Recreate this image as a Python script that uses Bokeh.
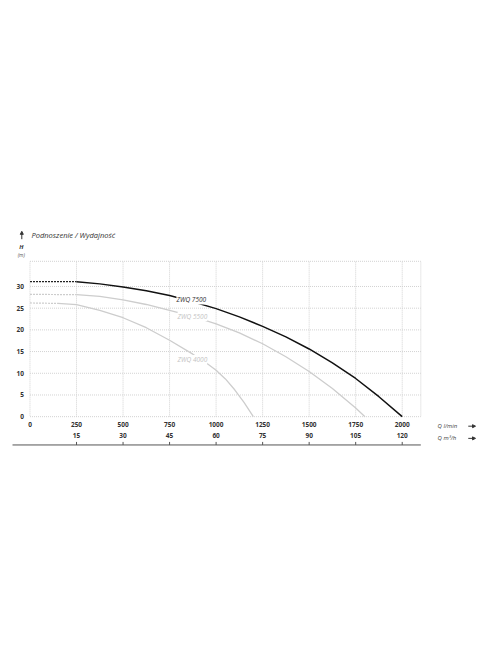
from bokeh.plotting import figure
from bokeh.models import (Range1d, LinearAxis, FixedTicker, Label, Arrow, NormalHead)
from bokeh.embed import file_html
from bokeh.resources import INLINE

# ---- data ----
q_ticks_lmin = [0, 250, 500, 750, 1000, 1250, 1500, 1750, 2000]
q_ticks_m3h = [15, 30, 45, 60, 75, 90, 105, 120]
h_ticks = [0, 5, 10, 15, 20, 25, 30]

zwq7500_q_dash = [0, 250]
zwq7500_h_dash = [31.1, 31.1]
zwq7500_q = [250, 375, 500, 625, 750, 875, 1000, 1125, 1250, 1375, 1500, 1625, 1750, 1875, 2000]
zwq7500_h = [31.1, 30.6, 29.9, 29.0, 27.9, 26.5, 24.9, 23.0, 20.8, 18.4, 15.6, 12.4, 8.8, 4.6, 0.0]

zwq5500_q_dash = [0, 250]
zwq5500_h_dash = [28.2, 28.1]
zwq5500_q = [250, 375, 500, 625, 750, 875, 1000, 1125, 1250, 1375, 1500, 1625, 1750, 1800]
zwq5500_h = [28.1, 27.7, 26.9, 25.85, 24.5, 23.1, 21.4, 19.3, 16.8, 13.8, 10.4, 6.5, 2.0, 0.0]

zwq4000_q_dash = [0, 150]
zwq4000_h_dash = [26.2, 26.1]
zwq4000_q = [150, 250, 375, 500, 625, 750, 875, 937, 1000, 1050, 1100, 1150, 1200]
zwq4000_h = [26.1, 25.8, 24.5, 22.8, 20.5, 17.6, 14.4, 12.7, 10.7, 8.7, 6.2, 3.3, 0.0]

FONT = "Open Sans"
LMIN_TO_M3H = 0.06

# extent of the chart box (data units)
box_q = 2100
box_h = 35.8

# whole canvas is the frame; the ranges place the chart box inside it
xr = Range1d(-158.5, 2420.7)
yr = Range1d(-52.5, 95.9)

p = figure(width=480, height=644, output_backend="svg", toolbar_location=None,
           x_range=xr, y_range=yr, x_axis_type=None, y_axis_type=None,
           min_border=0, min_border_left=0, min_border_right=0,
           min_border_top=0, min_border_bottom=0)
p.title.visible = False
p.background_fill_color = "white"
p.border_fill_color = "white"
p.outline_line_color = None
p.xgrid.visible = False
p.ygrid.visible = False

def style_axis(ax, standoff):
    ax.axis_line_color = None
    ax.major_tick_line_color = None
    ax.minor_tick_line_color = None
    ax.major_tick_out = 0
    ax.major_tick_in = 0
    ax.major_label_standoff = standoff
    ax.major_label_text_font = FONT
    ax.major_label_text_font_style = "bold"
    ax.major_label_text_font_size = "6.5px"
    ax.major_label_text_color = "#333333"

yax = LinearAxis(ticker=FixedTicker(ticks=h_ticks), fixed_location=0)
style_axis(yax, 6)
p.add_layout(yax, "left")

xax = LinearAxis(ticker=FixedTicker(ticks=q_ticks_lmin), fixed_location=0)
style_axis(xax, 5)
p.add_layout(xax, "below")

p.extra_x_ranges = {"m3h": Range1d(xr.start * LMIN_TO_M3H, xr.end * LMIN_TO_M3H)}
xax2 = LinearAxis(x_range_name="m3h", ticker=FixedTicker(ticks=q_ticks_m3h), fixed_location=-2.72)
style_axis(xax2, 5)
p.add_layout(xax2, "below")

# dotted grid and box
grid_col = "#d2d2d2"
vq = q_ticks_lmin[1:]
p.segment(x0=vq, y0=[0] * len(vq), x1=vq, y1=[box_h] * len(vq),
          line_color=grid_col, line_dash="1 1", line_width=1)
hh = h_ticks[1:]
p.segment(x0=[0] * len(hh), y0=hh, x1=[box_q] * len(hh), y1=hh,
          line_color=grid_col, line_dash="1 1", line_width=1)
p.quad(left=[0], right=[box_q], bottom=[0], top=[box_h], fill_color=None,
       line_color=grid_col, line_dash="1 1", line_width=1)

# curves
light = "#cdcdcd"
p.line(zwq4000_q_dash, zwq4000_h_dash, line_color=light, line_width=1.2, line_dash="2 1")
p.line(zwq4000_q, zwq4000_h, line_color=light, line_width=1.3)
p.line(zwq5500_q_dash, zwq5500_h_dash, line_color=light, line_width=1.2, line_dash="2 1")
p.line(zwq5500_q, zwq5500_h, line_color=light, line_width=1.3)
p.line(zwq7500_q_dash, zwq7500_h_dash, line_color="#222222", line_width=1.2, line_dash="2 1")
p.line(zwq7500_q, zwq7500_h, line_color="#111111", line_width=1.5)

# bottom base line with small ticks at the m3/h values
line_h = -6.52
tq = [t / LMIN_TO_M3H for t in q_ticks_m3h]
p.segment(x0=[-94], y0=[line_h], x1=[box_q], y1=[line_h], line_color="#555555", line_width=1)
p.segment(x0=tq, y0=[line_h] * len(tq), x1=tq, y1=[line_h + 0.7] * len(tq),
          line_color="#555555", line_width=1)

def lab(x, y, t, color, size="6.5px", style="italic", align="left", bg=True):
    p.add_layout(Label(x=x, y=y, text=t, text_color=color, text_font=FONT,
                       text_font_size=size, text_font_style=style,
                       text_align=align, text_baseline="middle",
                       background_fill_color="white" if bg else None,
                       background_fill_alpha=1.0 if bg else 0.0))

lab(787, 26.9, "ZWQ 7500", "#333333")
lab(793, 23.1, "ZWQ 5500", "#c4c4c4")
lab(793, 13.2, "ZWQ 4000", "#c4c4c4")

# titles
lab(8, 41.75, "Podnoszenie / Wydajność", "#333333", size="7.5px", bg=False)
lab(-47, 39.0, "H", "#333333", size="6px", style="bold italic", align="center", bg=False)
lab(-47, 37.2, "(m)", "#555555", size="5px", align="center", bg=False)
p.add_layout(Arrow(x_start=-44, y_start=40.9, x_end=-44, y_end=42.7,
                   line_color="#333333", line_width=1,
                   end=NormalHead(size=3, line_color="#333333", fill_color="#333333")))

lab(2190, -2.19, "Q l/min", "#444444", size="6px", bg=False)
lab(2190, -5.0, "Q m³/h", "#444444", size="6px", bg=False)
for yy in (-2.19, -5.0):
    p.add_layout(Arrow(x_start=2355, y_start=yy, x_end=2394, y_end=yy,
                       line_color="#333333", line_width=1,
                       end=NormalHead(size=3, line_color="#333333", fill_color="#333333")))

open("out.html", "w").write(file_html(p, INLINE))
